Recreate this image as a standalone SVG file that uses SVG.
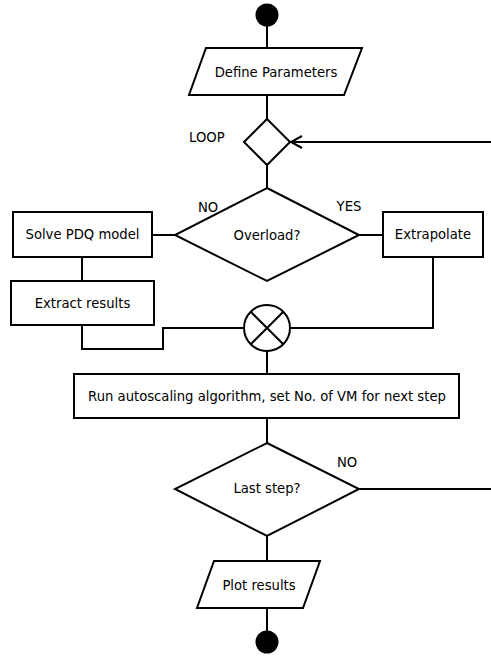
<svg xmlns="http://www.w3.org/2000/svg" width="491" height="657" viewBox="0 0 491 657">
  <defs>
    <style>
      .shape { fill: #ffffff; stroke: #000000; stroke-width: 2; }
      .wire { fill: none; stroke: #000000; stroke-width: 2; }
      .dot { fill: #000000; stroke: none; }
      text { font-family: "DejaVu Sans", "Liberation Sans", sans-serif; font-size: 13.2px; fill: #000000; }
      .mid { text-anchor: middle; dominant-baseline: central; }
    </style>
    <marker id="open-arrow" markerWidth="14" markerHeight="14" refX="12" refY="7" orient="auto" markerUnits="userSpaceOnUse">
      <path d="M1,1 L12,7 L1,13" fill="none" stroke="#000000" stroke-width="2"/>
    </marker>
  </defs>

  <rect width="491" height="657" fill="#ffffff"/>

  <!-- connectors -->
  <g id="connectors">
    <line class="wire" x1="267" y1="15" x2="267" y2="48"/>
    <line class="wire" x1="267" y1="95" x2="267" y2="119"/>
    <line class="wire" x1="491" y1="142" x2="291" y2="142" marker-end="url(#open-arrow)"/>
    <line class="wire" x1="267" y1="165" x2="267" y2="188"/>
    <line class="wire" x1="152" y1="235" x2="175" y2="235"/>
    <line class="wire" x1="359" y1="235" x2="383" y2="235"/>
    <line class="wire" x1="82" y1="257" x2="82" y2="281"/>
    <polyline class="wire" points="82,325 82,349 163,349 163,328 244,328"/>
    <polyline class="wire" points="433,257 433,328 290,328"/>
    <line class="wire" x1="267" y1="351" x2="267" y2="374"/>
    <line class="wire" x1="267" y1="418" x2="267" y2="443"/>
    <line class="wire" x1="359" y1="489" x2="491" y2="489"/>
    <line class="wire" x1="267" y1="536" x2="267" y2="561"/>
    <line class="wire" x1="267" y1="608" x2="267" y2="642"/>
  </g>

  <!-- nodes -->
  <g id="start">
    <circle class="dot" cx="267" cy="15" r="11.5"/>
  </g>

  <g id="define-parameters">
    <polygon class="shape" points="206,48 362,48 344,95 189,95"/>
    <text class="mid" x="276" y="72">Define Parameters</text>
  </g>

  <g id="loop">
    <polygon class="shape" points="267,119 290,142 267,165 244,142"/>
    <text x="189" y="137" dominant-baseline="central">LOOP</text>
  </g>

  <g id="overload">
    <polygon class="shape" points="267,188 359,235 267,281 175,235"/>
    <text class="mid" x="267" y="235">Overload?</text>
    <text class="mid" x="208" y="207">NO</text>
    <text class="mid" x="349" y="206">YES</text>
  </g>

  <g id="solve-pdq">
    <rect class="shape" x="13" y="212" width="139" height="45"/>
    <text class="mid" x="82.5" y="234">Solve PDQ model</text>
  </g>

  <g id="extrapolate">
    <rect class="shape" x="383" y="212" width="100" height="45"/>
    <text class="mid" x="433" y="234">Extrapolate</text>
  </g>

  <g id="extract-results">
    <rect class="shape" x="11" y="281" width="143" height="44"/>
    <text class="mid" x="82.5" y="303">Extract results</text>
  </g>

  <g id="merge">
    <circle class="shape" cx="267" cy="328" r="23"/>
    <line class="wire" x1="250.7" y1="311.7" x2="283.3" y2="344.3"/>
    <line class="wire" x1="283.3" y1="311.7" x2="250.7" y2="344.3"/>
  </g>

  <g id="autoscaling">
    <rect class="shape" x="74" y="374" width="385" height="44"/>
    <text class="mid" x="267" y="396">Run autoscaling algorithm, set No. of VM for next step</text>
  </g>

  <g id="last-step">
    <polygon class="shape" points="267,443 359,489 267,536 175,489"/>
    <text class="mid" x="267" y="488">Last step?</text>
    <text class="mid" x="347" y="462">NO</text>
  </g>

  <g id="plot-results">
    <polygon class="shape" points="214,561 320,561 303,608 197,608"/>
    <text class="mid" x="259" y="585">Plot results</text>
  </g>

  <g id="end">
    <circle class="dot" cx="267" cy="642" r="11.5"/>
  </g>
</svg>
